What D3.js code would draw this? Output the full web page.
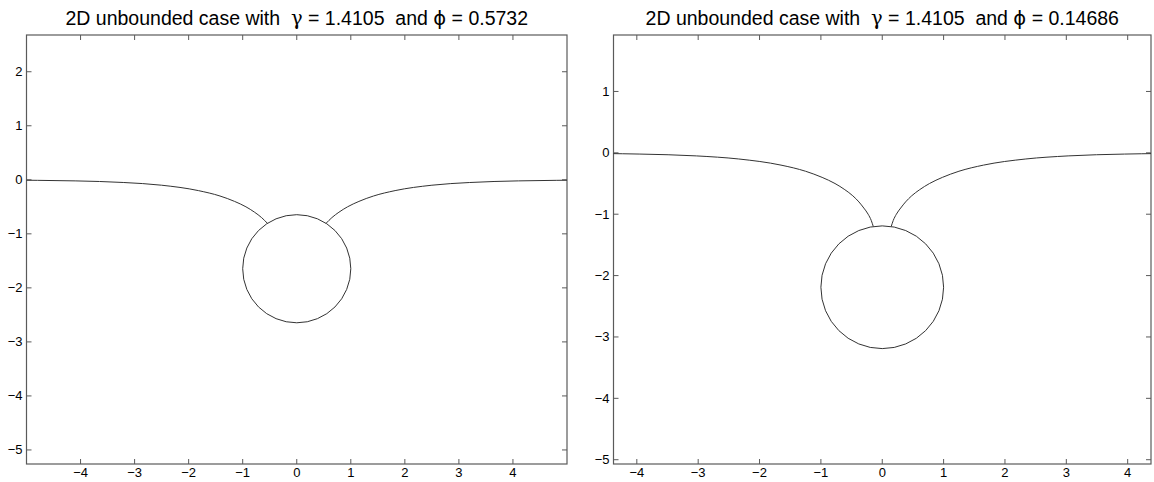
<!DOCTYPE html>
<html>
<head>
<meta charset="utf-8">
<script src="https://cdn.jsdelivr.net/npm/d3@7"></script>
<style>
  body { margin: 0; background: #fff; }
  svg { display: block; }
  text { white-space: pre; }
</style>
</head>
<body>
<div id="chart"></div>
<script>
// chart values
var gammaVal = "1.4105";
var phiVals = ["0.5732", "0.14686"];
var xTicks = [-4, -3, -2, -1, 0, 1, 2, 3, 4];
var yTicksA = [-5, -4, -3, -2, -1, 0, 1, 2];
var yTicksB = [-5, -4, -3, -2, -1, 0, 1];

// circle (body) centre and radius, in axis units
var circleCY = [-1.646, -2.19];
var circleR = [1, 1];

// meniscus, left panel
var menLeftXA = [-5, -4.8, -4.1, -3.2, -2.5, -1.82, -1.42, -1.15, -0.94, -0.78, -0.65, -0.542];
var menLeftYA = [-0.008, -0.01, -0.02, -0.05, -0.1, -0.2, -0.3, -0.4, -0.5, -0.6, -0.7, -0.806];
var menRightXA = [0.542, 0.65, 0.78, 0.94, 1.15, 1.42, 1.82, 2.5, 3.2, 4.1, 4.8, 5];
var menRightYA = [-0.806, -0.7, -0.6, -0.5, -0.4, -0.3, -0.2, -0.1, -0.05, -0.02, -0.01, -0.008];

// meniscus, right panel
var menLeftXB = [-4.38, -4.23, -3.95, -3.03, -2.34, -1.65, -1.25, -0.98, -0.77, -0.61, -0.48, -0.38, -0.3, -0.23, -0.18, -0.146];
var menLeftYB = [-0.013, -0.015, -0.02, -0.05, -0.1, -0.2, -0.3, -0.4, -0.5, -0.6, -0.7, -0.8, -0.9, -1.0, -1.1, -1.2];
var menRightXB = [0.146, 0.18, 0.23, 0.3, 0.38, 0.48, 0.61, 0.77, 0.98, 1.25, 1.65, 2.34, 3.03, 3.95, 4.23, 4.38];
var menRightYB = [-1.2, -1.1, -1.0, -0.9, -0.8, -0.7, -0.6, -0.5, -0.4, -0.3, -0.2, -0.1, -0.05, -0.02, -0.015, -0.013];

var width = 1154;
var height = 482;

var svg = d3.select('#chart')
  .append('svg')
  .attr('width', width)
  .attr('height', height);

var zip = (xs, ys) => xs.map((x, i) => [x, ys[i]]);
var fmt = (t) => (t < 0 ? '\u2212' + Math.abs(t) : String(t));

function drawPanel(p) {
  var x = d3.scaleLinear().domain(p.xDomain).range([p.left, p.right]);
  var y = d3.scaleLinear().domain(p.yDomain).range([p.bottom, p.top]);
  var g = svg.append('g');
  var tl = 5;
  var axisColor = '#5a5a5a';

  g.append('rect')
    .attr('x', p.left).attr('y', p.top)
    .attr('width', p.right - p.left).attr('height', p.bottom - p.top)
    .attr('fill', 'none').attr('stroke', axisColor).attr('stroke-width', 1.2);

  // x ticks, inward on bottom and top
  xTicks.forEach(function (t) {
    g.append('line').attr('x1', x(t)).attr('x2', x(t))
      .attr('y1', p.bottom).attr('y2', p.bottom - tl)
      .attr('stroke', axisColor);
    g.append('line').attr('x1', x(t)).attr('x2', x(t))
      .attr('y1', p.top).attr('y2', p.top + tl)
      .attr('stroke', axisColor);
    g.append('text')
      .attr('x', x(t)).attr('y', p.bottom + 12.5)
      .attr('text-anchor', 'middle')
      .attr('font-family', 'Liberation Sans, Arial, sans-serif')
      .attr('font-size', 13)
      .text(fmt(t));
  });

  // y ticks, inward on left and right
  p.yTicks.forEach(function (t) {
    g.append('line').attr('x1', p.left).attr('x2', p.left + tl)
      .attr('y1', y(t)).attr('y2', y(t))
      .attr('stroke', axisColor);
    g.append('line').attr('x1', p.right).attr('x2', p.right - tl)
      .attr('y1', y(t)).attr('y2', y(t))
      .attr('stroke', axisColor);
    g.append('text')
      .attr('x', p.left - 4).attr('y', y(t) + 4.5)
      .attr('text-anchor', 'end')
      .attr('font-family', 'Liberation Sans, Arial, sans-serif')
      .attr('font-size', 13)
      .text(fmt(t));
  });

  var line = d3.line()
    .x((d) => x(d[0]))
    .y((d) => y(d[1]))
    .curve(d3.curveMonotoneX);

  [p.menLeft, p.menRight].forEach(function (pts) {
    g.append('path')
      .attr('d', line(pts))
      .attr('fill', 'none')
      .attr('stroke', '#333')
      .attr('stroke-width', 1);
  });

  g.append('circle')
    .attr('cx', x(0))
    .attr('cy', y(p.cy))
    .attr('r', x(p.r) - x(0))
    .attr('fill', 'none')
    .attr('stroke', '#333')
    .attr('stroke-width', 1);

  // title
  var title = g.append('text')
    .attr('x', (p.left + p.right) / 2)
    .attr('y', 25)
    .attr('text-anchor', 'middle')
    .attr('font-family', 'Liberation Sans, Arial, sans-serif')
    .attr('font-size', 19.5);
  title.append('tspan').text('2D unbounded case with  ');
  title.append('tspan').attr('font-family', 'DejaVu Serif, serif').text('\u03b3');
  title.append('tspan').text(' = ' + gammaVal + '  and ');
  title.append('tspan').attr('font-family', 'DejaVu Sans, sans-serif').text('\u03d5');
  title.append('tspan').text(' = ' + p.phi);
}

drawPanel({
  left: 26.5, right: 567, top: 35, bottom: 464,
  xDomain: [-5, 5], yDomain: [-5.26, 2.68],
  yTicks: yTicksA,
  cy: circleCY[0], r: circleR[0],
  menLeft: zip(menLeftXA, menLeftYA),
  menRight: zip(menRightXA, menRightYA),
  phi: phiVals[0]
});

drawPanel({
  left: 613.5, right: 1151, top: 35, bottom: 464,
  xDomain: [-4.38, 4.38], yDomain: [-5.07, 1.92],
  yTicks: yTicksB,
  cy: circleCY[1], r: circleR[1],
  menLeft: zip(menLeftXB, menLeftYB),
  menRight: zip(menRightXB, menRightYB),
  phi: phiVals[1]
});
</script>
</body>
</html>
